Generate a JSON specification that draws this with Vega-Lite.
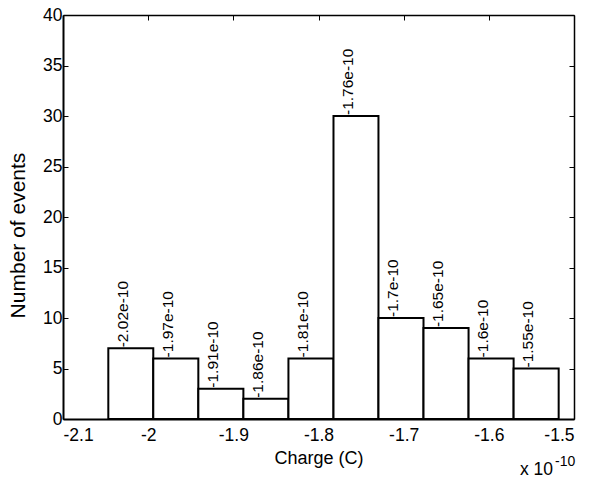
{
  "$schema": "https://vega.github.io/schema/vega-lite/v6.json",
  "width": 511,
  "height": 404,
  "autosize": {"type": "none"},
  "padding": {"left": 63, "top": 15, "right": 25, "bottom": 60},
  "background": "white",
  "config": {
    "font": "Liberation Sans",
    "view": {"stroke": null},
    "axis": {"grid": false, "domainColor": "black", "tickColor": "black", "labelColor": "black", "titleColor": "black", "labelFont": "Liberation Sans", "titleFont": "Liberation Sans", "titleFontWeight": "normal"}
  },
  "resolve": {"axis": {"x": "independent", "y": "independent"}},
  "layer": [
    {
      "data": {
        "values": [
          {"bin_start": -2.0468, "bin_end": -1.9940, "center": -2.0204, "count": 7, "label": "-2.02e-10"},
          {"bin_start": -1.9940, "bin_end": -1.9411, "center": -1.9675, "count": 6, "label": "-1.97e-10"},
          {"bin_start": -1.9411, "bin_end": -1.8882, "center": -1.9146, "count": 3, "label": "-1.91e-10"},
          {"bin_start": -1.8882, "bin_end": -1.8353, "center": -1.8617, "count": 2, "label": "-1.86e-10"},
          {"bin_start": -1.8353, "bin_end": -1.7824, "center": -1.8089, "count": 6, "label": "-1.81e-10"},
          {"bin_start": -1.7824, "bin_end": -1.7296, "center": -1.7560, "count": 30, "label": "-1.76e-10"},
          {"bin_start": -1.7296, "bin_end": -1.6767, "center": -1.7031, "count": 10, "label": "-1.7e-10"},
          {"bin_start": -1.6767, "bin_end": -1.6238, "center": -1.6502, "count": 9, "label": "-1.65e-10"},
          {"bin_start": -1.6238, "bin_end": -1.5709, "center": -1.5974, "count": 6, "label": "-1.6e-10"},
          {"bin_start": -1.5709, "bin_end": -1.5180, "center": -1.5445, "count": 5, "label": "-1.55e-10"}
        ]
      },
      "layer": [
        {
          "mark": {"type": "rect", "fill": "white", "stroke": "black", "strokeWidth": 2},
          "encoding": {
            "x": {
              "field": "bin_start", "type": "quantitative",
              "scale": {"domain": [-2.1, -1.5], "nice": false, "zero": false},
              "axis": {
                "orient": "bottom", "values": [-2.1, -2, -1.9, -1.8, -1.7, -1.6, -1.5],
                "labelExpr": "'' + datum.value", "labelFontSize": 17.5, "labelPadding": 12,
                "tickSize": -5, "tickWidth": 1, "domainWidth": 2,
                "title": "Charge (C)", "titleFontSize": 18, "titlePadding": 6
              }
            },
            "x2": {"field": "bin_end"},
            "y": {
              "field": "count", "type": "quantitative",
              "scale": {"domain": [0, 40], "nice": false},
              "axis": {
                "orient": "left", "values": [0, 5, 10, 15, 20, 25, 30, 35, 40],
                "labelFontSize": 17.5, "labelPadding": 6,
                "tickSize": -5, "tickWidth": 1, "domainWidth": 2,
                "title": "Number of events", "titleFontSize": 21, "titlePadding": 14, "titleY": 220
              }
            },
            "y2": {"datum": 0}
          }
        },
        {
          "mark": {"type": "text", "angle": 270, "align": "left", "baseline": "middle", "fontSize": 15.5, "dx": 1, "dy": -8, "color": "black"},
          "encoding": {
            "x": {
              "field": "center", "type": "quantitative",
              "axis": {"orient": "top", "values": [-2.1, -2, -1.9, -1.8, -1.7, -1.6, -1.5], "labels": false, "title": null, "tickSize": -5, "tickWidth": 1, "domainWidth": 1.5}
            },
            "y": {
              "field": "count", "type": "quantitative",
              "axis": {"orient": "right", "values": [0, 5, 10, 15, 20, 25, 30, 35, 40], "labels": false, "title": null, "tickSize": -5, "tickWidth": 1, "domainWidth": 1.5}
            },
            "text": {"field": "label"}
          }
        }
      ]
    },
    {
      "data": {"values": [{"x": -1.5, "y": 0, "base": "x 10", "exp": "-10"}]},
      "layer": [
        {
          "mark": {"type": "text", "align": "right", "baseline": "alphabetic", "fontSize": 17.5, "dx": -21, "dy": 56, "color": "black"},
          "encoding": {
            "x": {"field": "x", "type": "quantitative", "axis": null},
            "y": {"field": "y", "type": "quantitative", "axis": null},
            "text": {"field": "base"}
          }
        },
        {
          "mark": {"type": "text", "align": "left", "baseline": "alphabetic", "fontSize": 14, "dx": -19, "dy": 47, "color": "black"},
          "encoding": {
            "x": {"field": "x", "type": "quantitative", "axis": null},
            "y": {"field": "y", "type": "quantitative", "axis": null},
            "text": {"field": "exp"}
          }
        }
      ]
    }
  ]
}
